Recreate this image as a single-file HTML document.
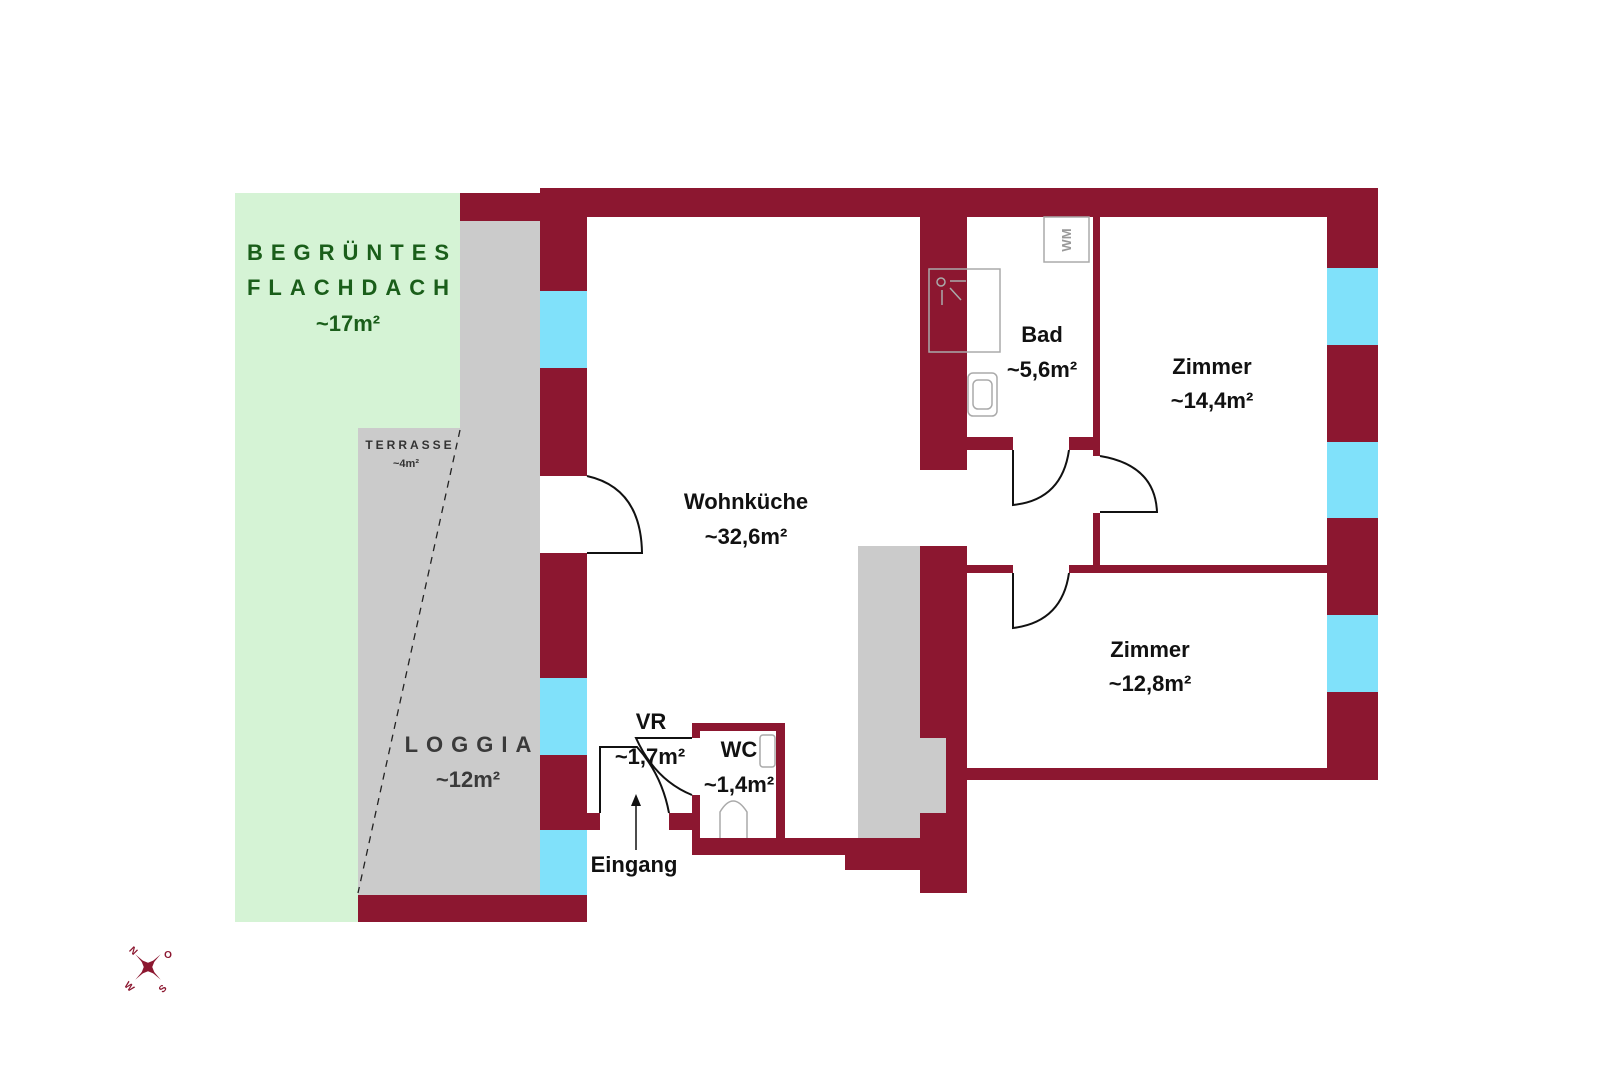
<!DOCTYPE html>
<html><head><meta charset="utf-8"><style>
html,body{margin:0;padding:0;background:#fff}
svg{display:block}
text{font-family:"Liberation Sans",sans-serif;font-weight:bold;text-anchor:middle}
</style></head><body>
<svg width="1599" height="1080" viewBox="0 0 1599 1080" xmlns="http://www.w3.org/2000/svg">
<g fill="#d5f3d5"><rect x="235" y="193" width="225" height="729"/></g>
<g fill="#cbcbcb">
<rect x="460" y="220" width="80" height="676"/>
<rect x="358" y="428" width="182" height="468"/>
<rect x="858" y="546" width="62" height="307"/>
<rect x="920" y="738" width="26" height="75"/>
</g>
<g fill="#8c1730">
<rect x="460" y="193" width="80" height="28"/>
<rect x="540" y="188" width="838" height="29"/>
<rect x="920" y="188" width="458" height="20"/>
<rect x="1327" y="188" width="51" height="592"/>
<rect x="540" y="188" width="47" height="288"/>
<rect x="540" y="553" width="47" height="277"/>
<rect x="358" y="895" width="229" height="27"/>
<rect x="585" y="813" width="15" height="17"/>
<rect x="669" y="813" width="26" height="17"/>
<rect x="692" y="723" width="93" height="8"/>
<rect x="776" y="723" width="9" height="132"/>
<rect x="692" y="723" width="8" height="15"/>
<rect x="692" y="795" width="8" height="60"/>
<rect x="692" y="838" width="166" height="17"/>
<rect x="845" y="838" width="80" height="32"/>
<rect x="920" y="546" width="47" height="192"/>
<rect x="946" y="738" width="21" height="75"/>
<rect x="920" y="813" width="47" height="80"/>
<rect x="920" y="188" width="47" height="282"/>
<rect x="1093" y="208" width="7" height="248"/>
<rect x="967" y="437" width="46" height="13"/>
<rect x="1069" y="437" width="31" height="13"/>
<rect x="1093" y="513" width="7" height="58"/>
<rect x="967" y="565" width="46" height="8"/>
<rect x="1069" y="565" width="258" height="8"/>
<rect x="967" y="768" width="411" height="12"/>
</g>
<g fill="#fff"><rect x="967" y="217" width="126" height="220"/></g>
<g fill="#80e1fa">
<rect x="540" y="291" width="47" height="77"/>
<rect x="540" y="678" width="47" height="77"/>
<rect x="540" y="830" width="47" height="65"/>
<rect x="1327" y="268" width="51" height="77"/>
<rect x="1327" y="442" width="51" height="76"/>
<rect x="1327" y="615" width="51" height="77"/>
</g>
<line x1="460" y1="430" x2="358" y2="893" stroke="#222" stroke-width="1.3" stroke-dasharray="7,6"/>
<g fill="none" stroke="#111" stroke-width="2">
<path d="M587,476 Q641,488 642,553 L587,553"/>
<path d="M1013,450 L1013,505 Q1062,500 1069,450"/>
<path d="M1100,456 Q1155,465 1157,512 L1100,512"/>
<path d="M1013,573 L1013,628 Q1062,622 1069,573"/>
<path d="M600,813 L600,747 L637,747 Q662,775 669,813"/>
<path d="M692,738 L636,738 Q655,780 692,795"/>
<line x1="636" y1="850" x2="636" y2="802" stroke-width="1.5"/>
</g>
<path d="M636,794 L631,806 L641,806 Z" fill="#111"/>
<g fill="none" stroke="#aaa" stroke-width="1.5">
<rect x="929" y="269" width="71" height="83"/>
<rect x="1044" y="217" width="45" height="45"/>
<rect x="968" y="373" width="29" height="43" rx="5"/>
<rect x="973" y="380" width="19" height="29" rx="5"/>
<circle cx="941" cy="282" r="4"/>
<line x1="950" y1="281" x2="966" y2="281"/>
<line x1="942" y1="290" x2="942" y2="305"/>
<line x1="950" y1="288" x2="961" y2="300"/>
<path d="M720,838 L720,812 Q733,790 747,812 L747,838"/>
<rect x="760" y="735" width="15" height="32" rx="3"/>
</g>
<text x="1067" y="240" font-size="13" fill="#999" font-weight="normal" transform="rotate(-90 1067 240)" dy="4">WM</text>
<g fill="#1a5e1a" font-size="22" letter-spacing="8">
<text x="352" y="260">BEGRÜNTES</text>
<text x="352" y="295">FLACHDACH</text>
</g>
<text x="348" y="331" font-size="22" fill="#1a5e1a">~17m²</text>
<text x="410" y="449" font-size="12" fill="#333" letter-spacing="3">TERRASSE</text>
<text x="406" y="467" font-size="11" fill="#333">~4m²</text>
<text x="472" y="752" font-size="22" fill="#3a3a3a" letter-spacing="8">LOGGIA</text>
<text x="468" y="787" font-size="22" fill="#3a3a3a">~12m²</text>
<g font-size="22" fill="#111">
<text x="746" y="509">Wohnküche</text>
<text x="746" y="544">~32,6m²</text>
<text x="1042" y="342">Bad</text>
<text x="1042" y="377">~5,6m²</text>
<text x="1212" y="374">Zimmer</text>
<text x="1212" y="408">~14,4m²</text>
<text x="1150" y="657">Zimmer</text>
<text x="1150" y="691">~12,8m²</text>
<text x="651" y="729">VR</text>
<text x="650" y="764">~1,7m²</text>
<text x="739" y="757">WC</text>
<text x="739" y="792">~1,4m²</text>
<text x="634" y="872">Eingang</text>
</g>
<g transform="translate(148,967)" fill="#8c1730">
<path d="M0,-10 L3,-3 L10,0 L3,3 L0,10 L-3,3 L-10,0 L-3,-3 Z" transform="rotate(45)"/>
<path d="M0,-18 L1.5,0 L0,18 L-1.5,0 Z" transform="rotate(45)"/>
<path d="M-18,0 L0,1.5 L18,0 L0,-1.5 Z" transform="rotate(45)"/>
<text x="-17" y="-14" font-size="10" font-family="Liberation Serif" font-weight="normal" transform="rotate(45 -17 -14)">N</text>
<text x="20" y="-9" font-size="10" font-family="Liberation Serif" font-weight="normal">O</text>
<text x="-21" y="22" font-size="10" font-family="Liberation Serif" font-weight="normal" transform="rotate(45 -21 22)">W</text>
<text x="17" y="24" font-size="10" font-family="Liberation Serif" font-weight="normal" transform="rotate(-45 17 24)">S</text>
</g>
</svg>
</body></html>
